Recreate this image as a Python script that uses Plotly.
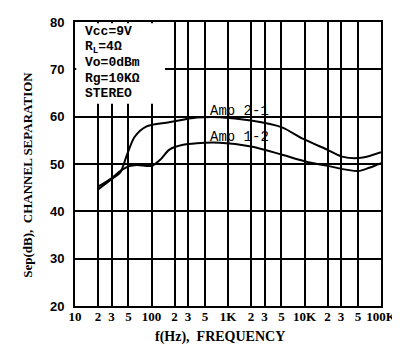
import plotly.graph_objects as go

# Data
freq_21 = [20, 30, 39, 47, 60, 85, 170, 390, 785, 2000, 5000, 9300, 20000, 32000, 55000, 100000]
sep_21 = [44.6, 46.8, 48.2, 51.6, 55.7, 57.9, 58.8, 59.8, 59.9, 59.2, 57.8, 55.4, 53.0, 51.5, 51.3, 52.5]

freq_12 = [20, 30, 39, 50, 65, 100, 130, 170, 250, 390, 785, 2000, 5000, 10000, 20000, 50000, 70000, 100000]
sep_12 = [45.2, 47.0, 48.5, 49.5, 49.8, 49.6, 50.9, 53.0, 54.0, 54.4, 54.5, 53.7, 52.0, 50.6, 49.6, 48.5, 49.2, 50.2]

x_tickvals = [10, 20, 30, 50, 100, 200, 300, 500, 1000, 2000, 3000, 5000,
              10000, 20000, 30000, 50000, 100000]
x_ticktext = ["10", "2", "3", "5", "100", "2", "3", "5", "1K", "2", "3", "5",
              "10K", "2", "3", "5", "100K"]
y_tickvals = [20, 30, 40, 50, 60, 70, 80]

cond_lines = ["Vcc=9V", "R<sub>L</sub>=4Ω", "Vo=0dBm", "Rg=10KΩ", "STEREO"]

serif = "Liberation Serif"
sans = "Liberation Sans"
mono = "Liberation Mono"

fig = go.Figure()
fig.add_trace(go.Scatter(x=freq_21, y=sep_21, mode="lines",
                         line=dict(color="black", width=2, shape="spline", smoothing=0.8),
                         showlegend=False, hoverinfo="skip"))
fig.add_trace(go.Scatter(x=freq_12, y=sep_12, mode="lines",
                         line=dict(color="black", width=2, shape="spline", smoothing=0.8),
                         showlegend=False, hoverinfo="skip"))

fig.update_layout(
    width=400, height=345,
    margin=dict(l=67, r=27, t=7, b=47),
    paper_bgcolor="white", plot_bgcolor="white",
    font=dict(family=serif, color="black"),
    xaxis=dict(type="log", range=[1, 5], tickmode="array",
               tickvals=x_tickvals, ticktext=x_ticktext, tickangle=0,
               showgrid=True, gridcolor="black", gridwidth=1.5,
               showline=True, linecolor="black", linewidth=2, mirror=True,
               ticks="", zeroline=False, ticklabelstandoff=-3,
               tickfont=dict(family=serif, size=13, weight="bold", color="black")),
    yaxis=dict(range=[20, 80], tickmode="array", tickvals=y_tickvals,
               showgrid=True, gridcolor="black", gridwidth=1.5,
               showline=True, linecolor="black", linewidth=2, mirror=True,
               ticks="", zeroline=False, ticklabelstandoff=6,
               tickfont=dict(family=sans, size=13, weight="bold", color="black")),
)

# white box hiding grid behind the conditions text
fig.add_shape(type="rect", xref="paper", yref="paper",
              x0=0.004, x1=(157 - 67) / 306, y0=(298 - 90) / 292, y1=0.996,
              fillcolor="white", line=dict(width=0), layer="above")

for i, t in enumerate(cond_lines):
    fig.add_annotation(text=t, xref="paper", yref="paper",
                       x=(75 - 67) / 306, y=1 - (17 + 16 * i - 7) / 292,
                       xanchor="left", yanchor="middle", showarrow=False,
                       font=dict(family=mono, size=13, weight="bold", color="black"))

fig.add_annotation(text="Amp 2-1", x=2.74, y=61.3, xref="x", yref="y",
                   xanchor="left", yanchor="middle", showarrow=False,
                   font=dict(family=mono, size=14, color="black"))
fig.add_annotation(text="Amp 1-2", x=2.74, y=55.6, xref="x", yref="y",
                   xanchor="left", yanchor="middle", showarrow=False,
                   font=dict(family=mono, size=14, color="black"))

# axis titles
fig.add_annotation(text="Sep(dB),  CHANNEL SEPARATION", xref="paper", yref="paper",
                   x=-(67 - 20) / 306, y=(298 - 163) / 292, textangle=-90,
                   xanchor="center", yanchor="middle", showarrow=False,
                   font=dict(family=serif, size=13, weight="bold", color="black"))
fig.add_annotation(text="f(Hz),  FREQUENCY", xref="paper", yref="paper",
                   x=(212 - 67) / 306, y=-(330 - 298) / 292,
                   xanchor="center", yanchor="middle", showarrow=False,
                   font=dict(family=serif, size=14, weight="bold", color="black"))

fig.write_html("out.html")
